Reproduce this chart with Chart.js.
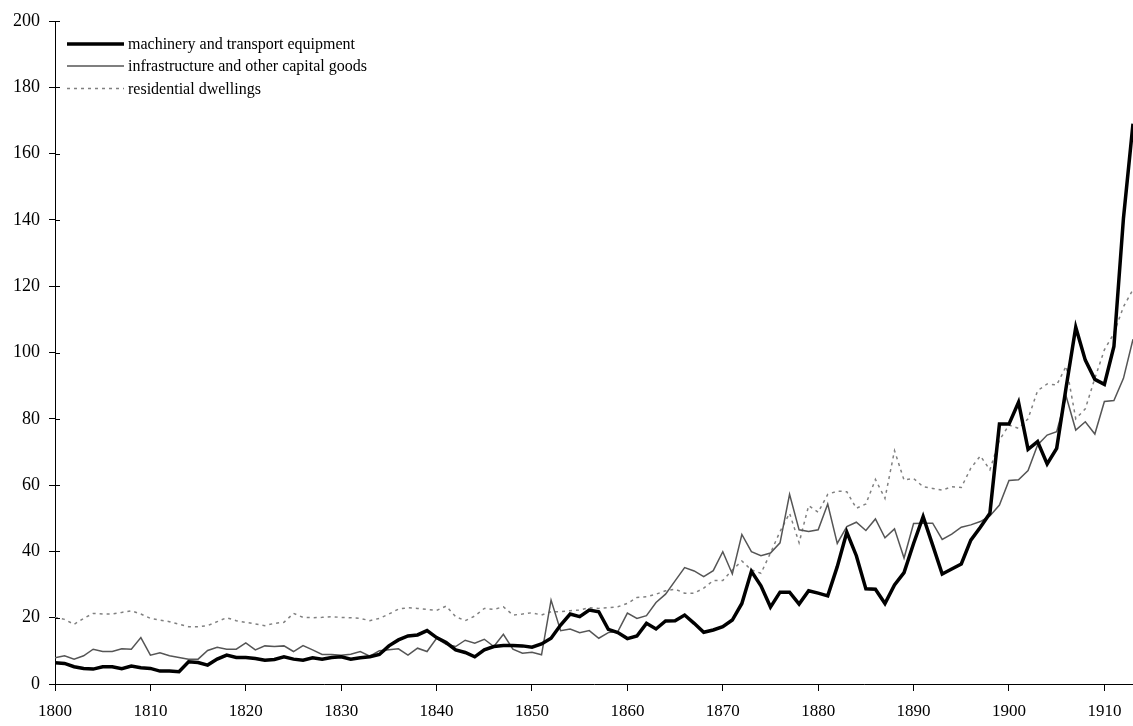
<!DOCTYPE html>
<html>
<head>
<meta charset="utf-8">
<script src="https://cdn.jsdelivr.net/npm/chart.js@4"></script>
<style>
  html, body { margin: 0; padding: 0; background: #fff; }
  #wrap { width: 1133px; height: 726px; }
</style>
</head>
<body>
<div id="wrap"><canvas id="chart" width="1133" height="726"></canvas></div>
<script>
// years 1800..1913
const years = [];
for (let y = 1800; y <= 1913; y++) years.push(y);

const machinery = [
  6.4, 6.2, 5.2, 4.7, 4.5, 5.2, 5.2, 4.6, 5.4, 4.9,
  4.7, 3.9, 3.9, 3.7, 6.7, 6.5, 5.7, 7.5, 8.7, 8.0,
  8.0, 7.7, 7.2, 7.4, 8.2, 7.5, 7.2, 7.9, 7.5, 8.0,
  8.2, 7.5, 7.9, 8.2, 8.9, 11.5, 13.3, 14.5, 14.8, 16.1,
  14.0, 12.5, 10.3, 9.5, 8.2, 10.3, 11.3, 11.6, 11.6, 11.5,
  11.1, 12.1, 13.8, 17.8, 21.1, 20.3, 22.3, 21.8, 16.5, 15.5,
  13.7, 14.5, 18.3, 16.6, 19.0, 19.1, 20.8, 18.3, 15.6, 16.3,
  17.3, 19.3, 24.3, 34.0, 29.6, 23.2, 27.7, 27.7, 24.1, 28.1,
  27.4, 26.6, 35.4, 45.8, 38.7, 28.7, 28.6, 24.3, 29.9, 33.6,
  42.4, 50.5, 41.9, 33.2, 34.7, 36.2, 43.4, 47.3, 51.5, 78.4,
  78.4, 85.0, 70.8, 73.1, 66.4, 71.1, 89.7, 107.6, 97.7, 91.9,
  90.4, 101.8, 140.5, 169.0
];

const infrastructure = [
  7.9, 8.5, 7.5, 8.5, 10.5, 9.8, 9.8, 10.6, 10.5, 14.0,
  8.7, 9.4, 8.5, 8.0, 7.5, 7.5, 10.1, 11.1, 10.5, 10.5,
  12.4, 10.3, 11.5, 11.3, 11.5, 9.8, 11.6, 10.3, 8.9, 8.9,
  8.7, 9.0, 9.8, 8.4, 10.0, 10.3, 10.6, 8.7, 10.8, 9.8,
  13.8, 12.0, 11.3, 13.2, 12.3, 13.5, 11.3, 15.0, 10.5, 9.3,
  9.6, 8.8, 25.3, 16.1, 16.6, 15.5, 16.1, 13.8, 15.5, 15.8,
  21.4, 19.8, 20.6, 24.6, 27.1, 31.1, 35.1, 34.1, 32.4, 34.2,
  39.9, 33.2, 45.1, 39.9, 38.7, 39.5, 42.6, 57.2, 46.5, 46.0,
  46.5, 54.3, 42.4, 47.5, 48.8, 46.3, 49.8, 44.1, 46.8, 38.0,
  48.4, 48.5, 48.5, 43.6, 45.2, 47.3, 48.0, 49.0, 50.7, 54.0,
  61.4, 61.6, 64.4, 72.1, 75.1, 76.1, 86.7, 76.6, 79.1, 75.4,
  85.2, 85.5, 92.2, 104.0
];

const dwellings = [
  20.1, 19.5, 18.0, 19.8, 21.3, 21.1, 21.1, 21.6, 22.1, 21.1,
  19.8, 19.3, 18.8, 18.0, 17.3, 17.3, 17.6, 18.8, 20.0, 19.1,
  18.6, 18.1, 17.6, 18.3, 18.6, 21.3, 20.1, 20.0, 20.1, 20.3,
  20.1, 20.0, 19.8, 19.1, 19.8, 21.1, 22.6, 23.0, 22.8, 22.5,
  22.2, 23.5, 20.3, 19.1, 20.5, 22.8, 22.5, 23.3, 20.8, 21.1,
  21.5, 20.8, 21.8, 21.8, 22.1, 22.3, 23.0, 22.8, 23.0, 23.3,
  24.3, 26.1, 26.3, 27.1, 28.1, 28.6, 27.4, 27.4, 28.9, 31.2,
  31.2, 34.4, 37.1, 34.4, 33.4, 39.5, 46.0, 51.5, 42.6, 53.8,
  51.8, 57.2, 58.2, 58.0, 53.0, 54.3, 61.7, 56.0, 70.4, 61.5,
  62.0, 59.5, 59.0, 58.5, 59.5, 59.3, 65.1, 68.8, 64.6, 73.6,
  78.1, 77.1, 80.0, 88.5, 90.5, 90.2, 95.9, 80.0, 83.0, 92.2,
  100.8, 105.8, 113.8, 119.0
];

const seriesLabels = [
  'machinery and transport equipment',
  'infrastructure and other capital goods',
  'residential dwellings'
];

const FONT = '"Liberation Serif", "Times New Roman", serif';
Chart.defaults.font.family = FONT;
Chart.defaults.font.size = 17;
Chart.defaults.color = '#000';

const toPoints = vals => years.map((yr, i) => ({ x: yr, y: vals[i] }));

// legend drawn inside the plot, top-left
const innerLegend = {
  id: 'innerLegend',
  afterDraw(chart) {
    const ctx = chart.ctx;
    const x0 = 67, x1 = 124, tx = 128;
    const rows = [44, 66, 88.5];
    ctx.save();
    chart.data.datasets.forEach((ds, i) => {
      ctx.beginPath();
      ctx.strokeStyle = ds.borderColor;
      ctx.lineWidth = ds.borderWidth;
      ctx.setLineDash(ds.borderDash || []);
      ctx.moveTo(x0, rows[i]);
      ctx.lineTo(x1, rows[i]);
      ctx.stroke();
      ctx.setLineDash([]);
      ctx.fillStyle = '#000';
      ctx.font = '16px ' + FONT;
      ctx.textBaseline = 'middle';
      ctx.fillText(ds.label, tx, rows[i] + 1);
    });
    ctx.restore();
  }
};

// y ticks cross the axis: add the short inner half
const crossTicks = {
  id: 'crossTicks',
  afterDraw(chart) {
    const ctx = chart.ctx;
    const y = chart.scales.y;
    const left = chart.chartArea.left;
    ctx.save();
    ctx.strokeStyle = '#000';
    ctx.lineWidth = 1;
    ctx.beginPath();
    y.ticks.forEach((t, i) => {
      const py = Math.round(y.getPixelForTick(i)) + 0.5;
      ctx.moveTo(left, py);
      ctx.lineTo(left + 5, py);
    });
    ctx.stroke();
    ctx.restore();
  }
};

new Chart(document.getElementById('chart'), {
  type: 'line',
  data: {
    datasets: [
      {
        label: seriesLabels[0],
        data: toPoints(machinery),
        borderColor: '#000',
        borderWidth: 3.5,
        pointRadius: 0,
        tension: 0
      },
      {
        label: seriesLabels[1],
        data: toPoints(infrastructure),
        borderColor: '#555',
        borderWidth: 1.5,
        pointRadius: 0,
        tension: 0
      },
      {
        label: seriesLabels[2],
        data: toPoints(dwellings),
        borderColor: '#808080',
        borderWidth: 1.5,
        borderDash: [3, 4],
        pointRadius: 0,
        tension: 0
      }
    ]
  },
  options: {
    responsive: false,
    animation: false,
    layout: { padding: { top: 21, right: 0, left: 0, bottom: 0 } },
    plugins: { legend: { display: false }, tooltip: { enabled: false } },
    scales: {
      x: {
        type: 'linear',
        min: 1800,
        max: 1913,
        grid: { drawOnChartArea: false, drawTicks: true, tickLength: 7, color: '#000' },
        border: { color: '#000', width: 1 },
        ticks: {
          stepSize: 10,
          includeBounds: false,
          maxRotation: 0,
          padding: 10,
          callback: v => String(v)
        },
        afterFit: s => { s.height = 42; }
      },
      y: {
        min: 0,
        max: 200,
        grid: { drawOnChartArea: false, drawTicks: true, tickLength: 6, color: '#000' },
        border: { color: '#000', width: 1 },
        ticks: { stepSize: 20, padding: 9, font: { size: 18 } },
        afterFit: s => { s.width = 55; }
      }
    }
  },
  plugins: [innerLegend, crossTicks]
});
</script>
</body>
</html>
